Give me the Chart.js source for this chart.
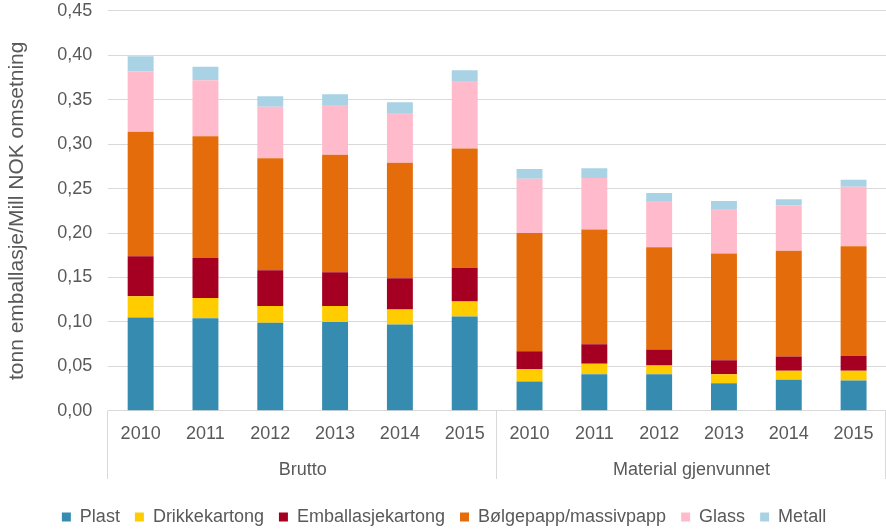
<!DOCTYPE html>
<html lang="no">
  <head>
    <meta charset="UTF-8" />
    <title>Emballasje</title>
    <script src="https://cdn.jsdelivr.net/npm/chart.js@4/dist/chart.umd.min.js"></script>
    <style>
      body { margin: 0; background: #fff; }
      #wrap { width: 886px; height: 531px; }
    </style>
  </head>
  <body>
    <div id="wrap"><canvas id="myChart" width="886" height="531"></canvas></div>
    <script>
      // Aar og grupper
      var aar = ["2010", "2011", "2012", "2013", "2014", "2015",
                 "2010", "2011", "2012", "2013", "2014", "2015"];
      var grupper = ["Brutto", "Material gjenvunnet"];

      // tonn emballasje per Mill NOK omsetning
      var plast = [0.105, 0.104, 0.099, 0.100, 0.097, 0.106, 0.033, 0.041, 0.041, 0.031, 0.035, 0.034];
      var drikkekartong = [0.024, 0.023, 0.019, 0.018, 0.017, 0.017, 0.014, 0.012, 0.010, 0.010, 0.010, 0.011];
      var emballasjekartong = [0.045, 0.045, 0.040, 0.038, 0.035, 0.038, 0.020, 0.022, 0.018, 0.016, 0.016, 0.017];
      var bolgepapp = [0.140, 0.137, 0.126, 0.132, 0.130, 0.134, 0.133, 0.129, 0.115, 0.120, 0.119, 0.123];
      var glass = [0.068, 0.063, 0.058, 0.056, 0.056, 0.076, 0.061, 0.058, 0.052, 0.050, 0.051, 0.067];
      var metall = [0.017, 0.015, 0.012, 0.012, 0.012, 0.012, 0.011, 0.011, 0.009, 0.009, 0.007, 0.008];

      var font = "'Liberation Sans', Arial, sans-serif";
      var grå = "#595959";

      function serie(navn, data, farge) {
        return { label: navn, data: data, backgroundColor: farge, borderWidth: 0,
                 barPercentage: 0.4, categoryPercentage: 1 };
      }

      // Streker mellom gruppene under x-aksen
      var skillelinjer = {
        id: "skillelinjer",
        afterDraw: function (chart) {
          var ctx = chart.ctx;
          var x = chart.scales.x;
          var x2 = chart.scales.x2;
          var n = aar.length / grupper.length;
          ctx.save();
          ctx.strokeStyle = "#d9d9d9";
          ctx.lineWidth = 1;
          for (var g = 0; g <= grupper.length; g++) {
            var px = Math.round(x.getPixelForValue(g * n - 0.5)) - 0.5;
            if (px > chart.width - 1) px = chart.width - 0.5;
            ctx.beginPath();
            ctx.moveTo(px, x.top);
            ctx.lineTo(px, x2.bottom - 14);
            ctx.stroke();
          }
          ctx.restore();
        },
      };

      Chart.defaults.font.family = font;
      Chart.defaults.font.size = 18;
      Chart.defaults.color = grå;

      new Chart(document.getElementById("myChart"), {
        type: "bar",
        data: {
          labels: aar,
          datasets: [
            serie("Plast", plast, "#358cb0"),
            serie("Drikkekartong", drikkekartong, "#ffcc00"),
            serie("Emballasjekartong", emballasjekartong, "#a50021"),
            serie("Bølgepapp/massivpapp", bolgepapp, "#e46c0a"),
            serie("Glass", glass, "#ffbbcb"),
            serie("Metall", metall, "#a9d3e5"),
          ],
        },
        options: {
          responsive: false,
          animation: false,
          layout: { padding: { top: 0, right: 0, left: 2, bottom: -5 } },
          plugins: {
            legend: {
              position: "bottom",
              labels: { boxWidth: 9, boxHeight: 9, padding: 15, color: grå },
            },
            tooltip: { enabled: false },
          },
          scales: {
            x: {
              stacked: true,
              grid: { display: false, drawTicks: false },
              border: { display: true, color: "#d9d9d9" },
              ticks: { padding: 12, color: grå },
            },
            x2: {
              type: "category",
              labels: grupper,
              position: "bottom",
              offset: true,
              grid: { display: false, drawTicks: false },
              border: { display: false },
              ticks: { padding: 3, color: grå },
              afterFit: function (s) { s.height += 9; },
            },
            y: {
              stacked: true,
              min: 0,
              max: 0.45,
              grid: { color: "#d9d9d9", drawTicks: true, tickLength: 16, tickColor: "rgba(0,0,0,0)" },
              border: { display: false },
              ticks: {
                stepSize: 0.05,
                padding: 0,
                color: grå,
                callback: function (v) { return v.toFixed(2).replace(".", ","); },
              },
              title: { display: true, text: "tonn emballasje/Mill NOK omsetning", color: grå,
                       font: { size: 21 }, padding: 3 },
              afterFit: function (s) { s.width += 24; },
            },
          },
        },
        plugins: [skillelinjer],
      });
    </script>
  </body>
</html>
